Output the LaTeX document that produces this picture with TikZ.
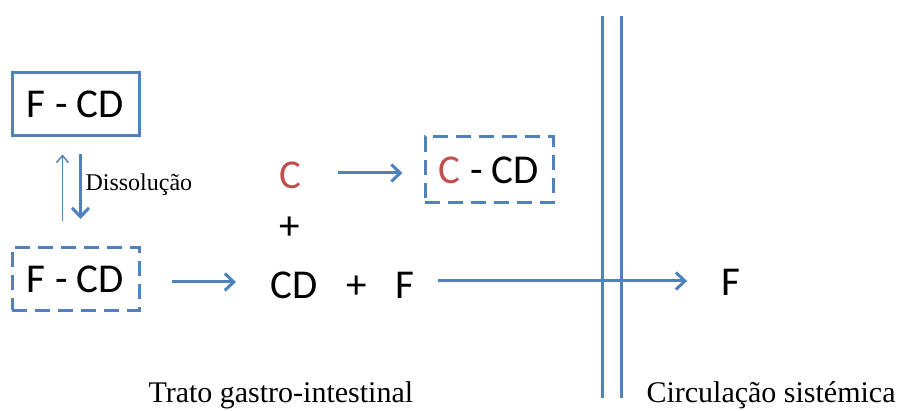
\documentclass[tikz,border=0pt]{standalone}
\usepackage{fontspec}
\setmainfont{Liberation Serif}
\setsansfont{Carlito}
\usetikzlibrary{arrows.meta, positioning}
\definecolor{cblue}{HTML}{4F81BD}
\definecolor{cred}{HTML}{C0504D}
\tikzset{
  every picture/.style={line width=3pt},
  chem/.style={font=\sffamily\fontsize{41}{44}\selectfont, inner sep=0pt},
  cbox/.style={chem, draw=cblue, minimum width=127pt, minimum height=63pt},
  dbox/.style={cbox, dash pattern=on 15pt off 8pt},
  arrow/.style={-{Straight Barb[length=9pt, width=17pt, line width=3pt]}, draw=cblue, line width=3pt},
  thinarrow/.style={-{Straight Barb[length=7pt, width=12pt, line width=1.5pt]}, draw=cblue, line width=1.5pt},
  label/.style={font=\fontsize{30}{34}\selectfont, inner sep=0pt, anchor=base west},
}

\begin{document}
\begin{tikzpicture}[x=1pt, y=-1pt]
  \useasboundingbox (0,0) rectangle (906,411);
  % left column: solid and dissolved complex
  \node[cbox] (fcd) at (75.5,104.5) {F - CD};
  \node[dbox] (fcdd) at (75.5,279) {F - CD};
  \draw[thinarrow] ([xshift=-13pt, yshift=25pt]fcdd.north) -- ([xshift=-13pt, yshift=-17pt]fcd.south);
  \draw[arrow] ([xshift=5pt, yshift=-17pt]fcd.south) -- ([xshift=5pt, yshift=27pt]fcdd.north);
  \node[font=\fontsize{24}{28}\selectfont, inner sep=0pt, anchor=west] (diss) at (84,185) {Dissolução};
  % dissociated species
  \node[chem, text=cred] (c) at (290,175) {C};
  \node[chem] (plus1) at (290,228) {+};
  \node[chem] (cd) at (294,285) {CD};
  \node[chem] (plus2) at (357,287) {+};
  \node[chem] (f) at (405,285) {F};
  \node[dbox, minimum width=128pt, minimum height=66pt] (ccd) at (489,170) {\textcolor{cred}{C} - CD};
  \draw[arrow, shorten <=31pt, shorten >=33pt] ([yshift=-3pt]fcdd.east) -- ([yshift=3pt]cd.west);
  \draw[arrow, shorten <=36pt, shorten >=21pt] ([yshift=2pt]c.east) -- ([yshift=-3pt]ccd.west);
  % membrane
  \node[inner sep=0pt] (mem1) at (602,14) {};
  \node[inner sep=0pt] (mem2) at (621,14) {};
  \draw[cblue] (mem1) -- ++(0,384);
  \draw[cblue] (mem2) -- ++(0,384);
  \node[chem] (fsys) at (731,282) {F};
  \draw[arrow, shorten <=22pt, shorten >=33pt] ([yshift=4pt]f.east) -- ([yshift=1pt]fsys.west);
  % compartments
  \node[label] (gi) at (147,403) {Trato gastro-intestinal};
  \node[label] (sys) at (645,403) {Circulação sistémica};
\end{tikzpicture}
\end{document}
